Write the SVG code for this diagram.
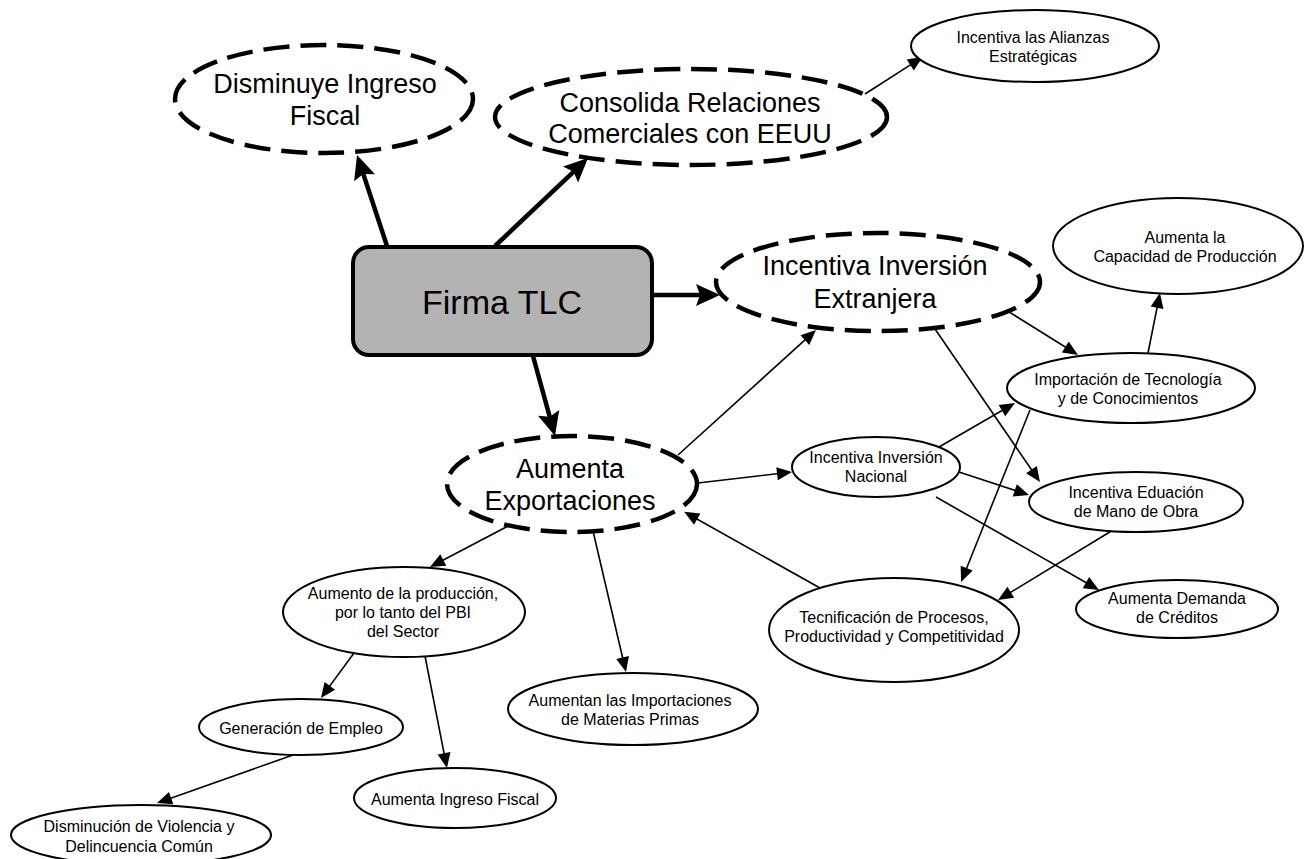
<svg xmlns="http://www.w3.org/2000/svg" width="1312" height="859" viewBox="0 0 1312 859">
<style>
text{font-family:"Liberation Sans",Arial,sans-serif;fill:#000;text-anchor:middle}
.big{font-size:27px}
.sm{font-size:16px}
.dash{fill:#fff;stroke:#000;stroke-width:4.5;stroke-dasharray:26 11}
.solid{fill:#fff;stroke:#000;stroke-width:2}
.thick{stroke:#000;stroke-width:4.5;fill:none;marker-end:url(#ah)}
.thin{stroke:#000;stroke-width:1.6;fill:none;marker-end:url(#as)}
</style>
<defs>
<marker id="ah" markerUnits="userSpaceOnUse" markerWidth="24" markerHeight="22" refX="12" refY="11" orient="auto" overflow="visible">
<path d="M0,0 L24,11 L0,22 L4,11 z" fill="#000"/>
</marker>
<marker id="as" markerUnits="userSpaceOnUse" markerWidth="15" markerHeight="13" refX="8" refY="6.5" orient="auto" overflow="visible">
<path d="M0,0 L15,6.5 L0,13 z" fill="#000"/>
</marker>
</defs>
<g id="connectors">
<line class="thick" x1="387" y1="246" x2="360.8" y2="166.4"/>
<line class="thick" x1="495" y1="246" x2="579.3" y2="166.3"/>
<line class="thick" x1="652" y1="295" x2="708" y2="295"/>
<line class="thick" x1="533" y1="356" x2="551.8" y2="424.4"/>
<line class="thin" x1="865" y1="94" x2="917" y2="60.6"/>
<line class="thin" x1="1006" y1="310" x2="1072.1" y2="351.2"/>
<line class="thin" x1="935" y1="329" x2="1036" y2="476.2"/>
<line class="thin" x1="678" y1="455" x2="810.8" y2="334.7"/>
<line class="thin" x1="1148" y1="353" x2="1158.6" y2="299.9"/>
<line class="thin" x1="698" y1="483" x2="785" y2="472.8"/>
<line class="thin" x1="939" y1="447" x2="1008.9" y2="406.5"/>
<line class="thin" x1="959" y1="472" x2="1022.4" y2="492.8"/>
<line class="thin" x1="936" y1="497" x2="1092.9" y2="586.5"/>
<line class="thin" x1="1030" y1="410" x2="963.7" y2="575.5"/>
<line class="thin" x1="1113" y1="530" x2="1004" y2="596.4"/>
<line class="thin" x1="820" y1="588" x2="690.2" y2="515.2"/>
<line class="thin" x1="510" y1="525" x2="436.2" y2="563.7"/>
<line class="thin" x1="593" y1="531" x2="624.4" y2="665.2"/>
<line class="thin" x1="354" y1="653" x2="325.1" y2="692.4"/>
<line class="thin" x1="425" y1="656" x2="445.6" y2="761.1"/>
<line class="thin" x1="293" y1="755" x2="163.6" y2="800.7"/>
</g>
<g id="n-firma">
<rect x="353" y="247" width="299" height="108" rx="16" fill="#b3b3b3" stroke="#000" stroke-width="4"/>
<text x="502" y="314" font-size="34">Firma TLC</text>
</g>
<g id="n-disminuye">
<ellipse class="dash" cx="324" cy="99" rx="149" ry="54"/>
<text class="big" x="325" y="93">Disminuye Ingreso</text>
<text class="big" x="325" y="125">Fiscal</text>
</g>
<g id="n-consolida">
<ellipse class="dash" cx="691" cy="117" rx="196" ry="48"/>
<text class="big" x="690" y="112">Consolida Relaciones</text>
<text class="big" x="690" y="143">Comerciales con EEUU</text>
</g>
<g id="n-alianzas">
<ellipse class="solid" cx="1035" cy="46" rx="124" ry="36"/>
<text class="sm" x="1033" y="43">Incentiva las Alianzas</text>
<text class="sm" x="1033" y="62">Estratégicas</text>
</g>
<g id="n-extranjera">
<ellipse class="dash" cx="878" cy="282" rx="162" ry="49"/>
<text class="big" x="875" y="275">Incentiva Inversión</text>
<text class="big" x="875" y="308">Extranjera</text>
</g>
<g id="n-capacidad">
<ellipse class="solid" cx="1178" cy="246" rx="125" ry="48"/>
<text class="sm" x="1185" y="243">Aumenta la</text>
<text class="sm" x="1185" y="262">Capacidad de Producción</text>
</g>
<g id="n-importacion">
<ellipse class="solid" cx="1131" cy="388" rx="124" ry="35"/>
<text class="sm" x="1128" y="385">Importación de Tecnología</text>
<text class="sm" x="1128" y="404">y de Conocimientos</text>
</g>
<g id="n-exportaciones">
<ellipse class="dash" cx="572" cy="484" rx="125" ry="48"/>
<text class="big" x="570" y="478">Aumenta</text>
<text class="big" x="570" y="510">Exportaciones</text>
</g>
<g id="n-nacional">
<ellipse class="solid" cx="876" cy="467" rx="84" ry="30"/>
<text class="sm" x="876" y="463">Incentiva Inversión</text>
<text class="sm" x="876" y="482">Nacional</text>
</g>
<g id="n-educacion">
<ellipse class="solid" cx="1136" cy="502" rx="107" ry="30"/>
<text class="sm" x="1136" y="498">Incentiva Eduación</text>
<text class="sm" x="1136" y="517">de Mano de Obra</text>
</g>
<g id="n-demanda">
<ellipse class="solid" cx="1177" cy="609" rx="101" ry="29"/>
<text class="sm" x="1177" y="604">Aumenta Demanda</text>
<text class="sm" x="1177" y="623">de Créditos</text>
</g>
<g id="n-tecnificacion">
<ellipse class="solid" cx="894" cy="630" rx="125" ry="52"/>
<text class="sm" x="894" y="623">Tecnificación de Procesos,</text>
<text class="sm" x="894" y="642">Productividad y Competitividad</text>
</g>
<g id="n-aumento">
<ellipse class="solid" cx="404" cy="612" rx="121" ry="45"/>
<text class="sm" x="403" y="599">Aumento de la producción,</text>
<text class="sm" x="403" y="618">por lo tanto del PBI</text>
<text class="sm" x="403" y="637">del Sector</text>
</g>
<g id="n-materias">
<ellipse class="solid" cx="633" cy="709" rx="125" ry="36"/>
<text class="sm" x="630" y="706">Aumentan las Importaciones</text>
<text class="sm" x="630" y="725">de Materias Primas</text>
</g>
<g id="n-empleo">
<ellipse class="solid" cx="301" cy="727" rx="102" ry="28"/>
<text class="sm" x="301" y="734">Generación de Empleo</text>
</g>
<g id="n-ingreso">
<ellipse class="solid" cx="455" cy="798" rx="101" ry="30"/>
<text class="sm" x="455" y="805">Aumenta Ingreso Fiscal</text>
</g>
<g id="n-violencia">
<ellipse class="solid" cx="141" cy="835" rx="130" ry="30"/>
<text class="sm" x="139" y="832">Disminución de Violencia y</text>
<text class="sm" x="139" y="852">Delincuencia Común</text>
</g>
</svg>
